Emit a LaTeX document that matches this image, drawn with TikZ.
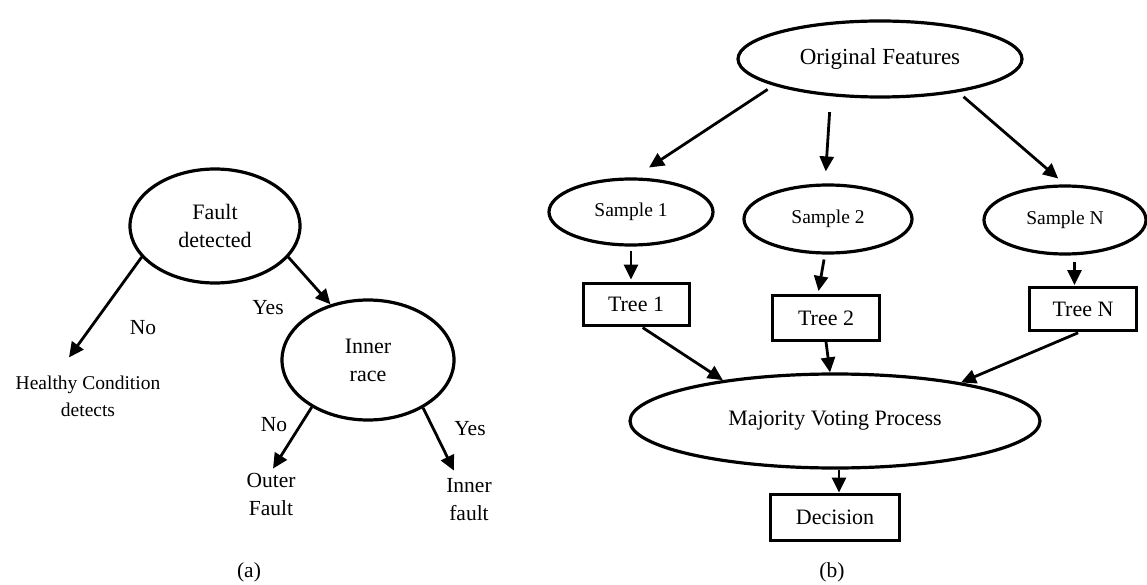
\documentclass[tikz,border=0pt]{standalone}
\usepackage{fontspec}
\setmainfont{Liberation Serif}
\usetikzlibrary{shapes.geometric,arrows.meta}

\begin{document}
\begin{tikzpicture}[x=1pt,y=-1pt,
  oval/.style={ellipse,draw,line width=3.2pt,inner sep=0pt,align=center,font=\fontsize{22}{28}\selectfont},
  box/.style={rectangle,draw,line width=3pt,inner sep=0pt,font=\fontsize{22}{26}\selectfont},
  txt/.style={inner sep=0pt,align=center,font=\fontsize{21.5}{28}\selectfont},
  arr/.style={line width=2.8pt,-{Triangle[length=15pt,width=14pt]}}]
\useasboundingbox (0,0) rectangle (1147,585);

% (a) fault tree
\node[oval,minimum width=170,minimum height=114] (fault) at (215,226) {Fault\\detected};
\node[oval,minimum width=172,minimum height=120] (inner) at (368,360) {Inner\\race};
\node[txt,font=\fontsize{19.5}{27}\selectfont] (healthy) at (88,396) {Healthy Condition\\detects};
\node[txt] (outer) at (271,494) {Outer\\Fault};
\node[txt] (innerf) at (469,500) {Inner\\fault};

\node[txt] (no1) at (143,328) {No};
\node[txt] (yes1) at (268,308) {Yes};
\node[txt] (no2) at (274,425) {No};
\node[txt] (yes2) at (470,429) {Yes};

\draw[arr] (fault.203) -- ([xshift=-19pt,yshift=18pt]healthy.north);
\draw[arr] (fault.337) -- (inner.124);
\draw[arr] (inner.220) -- ([xshift=2pt,yshift=4pt]outer.north);
\draw[arr] (inner.319) -- ([xshift=-15pt,yshift=8pt]innerf.north);

\node[txt] (capa) at (249,572) {(a)};

% (b) random forest
\node[oval,minimum width=284,minimum height=76,font=\fontsize{23}{28}\selectfont] (orig) at (880,59) {Original Features};
\node[oval,minimum width=164,minimum height=66,font=\fontsize{19.5}{24}\selectfont] (samp1) at (631,212) {Sample 1};
\node[oval,minimum width=168,minimum height=68,font=\fontsize{19.5}{24}\selectfont] (samp2) at (828,219) {Sample 2};
\node[oval,minimum width=162,minimum height=68,font=\fontsize{19.5}{24}\selectfont] (sampn) at (1065,220) {Sample N};

\node[box,minimum width=106,minimum height=42] (tree1) at (636,304) {Tree 1};
\node[box,minimum width=107,minimum height=45] (tree2) at (826,318) {Tree 2};
\node[box,minimum width=107,minimum height=43] (treen) at (1083,309) {Tree N};

\node[oval,minimum width=410,minimum height=94] (vote) at (835,421) {Majority Voting Process};
\node[box,minimum width=129,minimum height=46] (decision) at (835,517) {Decision};

\draw[arr,shorten <=7pt,shorten >=18pt] (orig.194) -- ([xshift=3pt]samp1.north);
\draw[arr,shorten <=16pt,shorten >=12pt] (orig.217) -- ([xshift=-3pt]samp2.north);
\draw[arr,shorten <=7pt,shorten >=9pt] (orig.337) -- (sampn.north);

\draw[arr,shorten <=4pt,shorten >=2pt] (samp1.south) -- (samp1.south |- tree1.north);
\draw[arr,shorten <=5pt,shorten >=3pt] (samp2.265) -- ([xshift=-8pt]tree2.north);
\draw[arr,shorten <=7pt,shorten >=1pt] (sampn.285) -- (sampn.285 |- treen.north);

\draw[arr,shorten <=2pt] ([xshift=5pt]tree1.south) -- (vote.160);
\draw[arr] (tree2.south) -- ([xshift=-5pt]vote.north);
\draw[arr,shorten <=2pt] ([xshift=-3pt]treen.south) -- (vote.17);
\draw[arr] ([xshift=4pt]vote.south) -- ([xshift=4pt]decision.north);

\node[txt] (capb) at (832,572) {(b)};
\end{tikzpicture}
\end{document}
